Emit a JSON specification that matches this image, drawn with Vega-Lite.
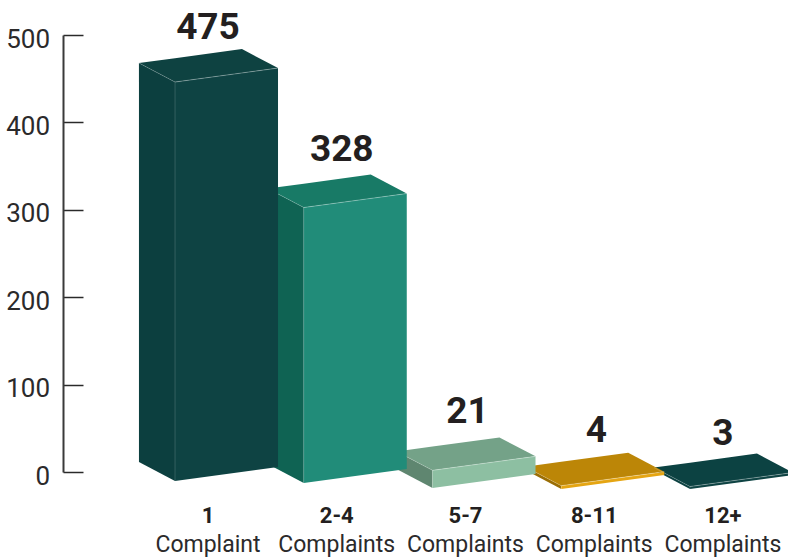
{
"$schema":"https://vega.github.io/schema/vega-lite/v6.json",
"width":725,"height":437,
"autosize":{"type":"none"},
"padding":{"left":63,"top":35,"right":0,"bottom":85},
"background":"white",
"config":{"view":{"stroke":null},"font":"Roboto",
"axisY":{"tickCount":6,"grid":false,"domainColor":"#3a3a3a","domainWidth":2,"tickColor":"#2a2a2a","tickWidth":1.5,"tickSize":-20,"labelPadding":33.5,"labelOffset":4,"labelFontSize":26,"labelFont":"Roboto","labelColor":"#2b2a2b","labelFontWeight":"normal"}},
"resolve":{"scale":{"color":"independent"}},
"data":{"values":[
{"group":"12+","unit":"Complaints","count":3},
{"group":"8-11","unit":"Complaints","count":4},
{"group":"5-7","unit":"Complaints","count":21},
{"group":"2-4","unit":"Complaints","count":328},
{"group":"1","unit":"Complaint","count":475}
]},
"transform":[
{"window":[{"op":"row_number","as":"r"}]},
{"calculate":"5-datum.r","as":"i"},
{"calculate":"[-10.3,-12.6,-18.3,-19.5,-19.5][datum.i]","as":"base"},
{"calculate":"datum.base+datum.count*0.961","as":"H"}
],
"layer":[
{"mark":{"type":"area","orient":"vertical"},
"transform":[{"calculate":"[0,1]","as":"t"},{"flatten":["t"]},
{"calculate":"datum.i-0.28+0.28*datum.t","as":"px"},
{"calculate":"datum.H+21.7*(1-datum.t)","as":"yU"},
{"calculate":"datum.base+21.7*(1-datum.t)","as":"yL"}],
"encoding":{
"x":{"field":"px","type":"quantitative","axis":null,"scale":{"domain":[-0.87,4.761],"nice":false,"zero":false}},
"y":{"field":"yU","type":"quantitative","stack":null,"title":null,"scale":{"domain":[0,500],"nice":false,"zero":false}},
"y2":{"field":"yL"},
"color":{"field":"group","type":"nominal","legend":null,"scale":{"domain":["1","2-4","5-7","8-11","12+"],"range":["#0c3f3f","#0f6353","#5f8670","#9a6e05","#0c4242"]}}}},
{"mark":{"type":"area","orient":"vertical"},
"transform":[{"calculate":"[0,1,2,3]","as":"t"},{"flatten":["t"]},
{"calculate":"datum.i-0.28+[0,0.28,0.8,1.08][datum.t]","as":"px"},
{"calculate":"datum.H+[21.7,27.3,37.7,16][datum.t]","as":"yU"},
{"calculate":"datum.H+[21.7,0,10.4,16][datum.t]","as":"yL"}],
"encoding":{
"x":{"field":"px","type":"quantitative","axis":null,"scale":{"domain":[-0.87,4.761],"nice":false,"zero":false}},
"y":{"field":"yU","type":"quantitative","stack":null,"title":null,"scale":{"domain":[0,500],"nice":false,"zero":false}},
"y2":{"field":"yL"},
"color":{"field":"group","type":"nominal","legend":null,"scale":{"domain":["1","2-4","5-7","8-11","12+"],"range":["#0e4241","#187a66","#74a288","#bc8607","#0c4242"]}}}},
{"mark":{"type":"rule","color":"#ffffff","opacity":0.18,"strokeWidth":1},
"transform":[{"calculate":"datum.i-0.28","as":"x2v"},{"calculate":"datum.H+21.7","as":"y2v"}],
"encoding":{
"x":{"field":"i","type":"quantitative","axis":null,"scale":{"domain":[-0.87,4.761],"nice":false,"zero":false}},
"y":{"field":"H","type":"quantitative","title":null,"scale":{"domain":[0,500],"nice":false,"zero":false}},
"x2":{"field":"x2v"},"y2":{"field":"y2v"}}},
{"mark":{"type":"area","orient":"vertical"},
"transform":[{"calculate":"[0,1]","as":"t"},{"flatten":["t"]},
{"calculate":"datum.i+0.8*datum.t","as":"px"},
{"calculate":"datum.H+16*datum.t","as":"yU"},
{"calculate":"datum.base+16*datum.t","as":"yL"}],
"encoding":{
"x":{"field":"px","type":"quantitative","axis":null,"scale":{"domain":[-0.87,4.761],"nice":false,"zero":false}},
"y":{"field":"yU","type":"quantitative","stack":null,"title":null,"scale":{"domain":[0,500],"nice":false,"zero":false}},
"y2":{"field":"yL"},
"color":{"field":"group","type":"nominal","legend":null,"scale":{"domain":["1","2-4","5-7","8-11","12+"],"range":["#0e4343","#218c79","#8dbfa2","#e5a512","#0e4343"]}}}},
{"mark":{"type":"rule","color":"#ffffff","opacity":0.3,"strokeWidth":1},
"transform":[{"calculate":"datum.i+0.8","as":"x2v"},{"calculate":"datum.H+16","as":"y2v"}],
"encoding":{
"x":{"field":"i","type":"quantitative","axis":null,"scale":{"domain":[-0.87,4.761],"nice":false,"zero":false}},
"y":{"field":"H","type":"quantitative","title":null,"scale":{"domain":[0,500],"nice":false,"zero":false}},
"x2":{"field":"x2v"},"y2":{"field":"y2v"}}},
{"mark":{"type":"rule","color":"#ffffff","opacity":0.15,"strokeWidth":1},
"encoding":{
"x":{"field":"i","type":"quantitative","axis":null,"scale":{"domain":[-0.87,4.761],"nice":false,"zero":false}},
"y":{"field":"H","type":"quantitative","title":null,"scale":{"domain":[0,500],"nice":false,"zero":false}},
"y2":{"field":"base"}}},
{"mark":{"type":"text","font":"Roboto","fontWeight":"bold","fontSize":37,"color":"#231f20","baseline":"alphabetic","align":"center"},
"transform":[{"calculate":"datum.i+[0.256,0.295,0.272,0.272,0.256][datum.i]","as":"tx"},{"calculate":"datum.H+[49,53,54,50,47][datum.i]","as":"ty"}],
"encoding":{
"x":{"field":"tx","type":"quantitative","axis":null,"scale":{"domain":[-0.87,4.761],"nice":false,"zero":false}},
"y":{"field":"ty","type":"quantitative","title":null,"scale":{"domain":[0,500],"nice":false,"zero":false}},
"text":{"field":"count","type":"quantitative"}}},
{"mark":{"type":"text","font":"Roboto","fontWeight":"bold","fontSize":22,"color":"#231f20","baseline":"alphabetic","align":"center"},
"transform":[{"calculate":"datum.i+0.256","as":"tx"}],
"encoding":{
"x":{"field":"tx","type":"quantitative","axis":null,"scale":{"domain":[-0.87,4.761],"nice":false,"zero":false}},
"y":{"datum":-58.3,"type":"quantitative","title":null,"scale":{"domain":[0,500],"nice":false,"zero":false}},
"text":{"field":"group","type":"nominal"}}},
{"mark":{"type":"text","font":"Roboto","fontSize":23,"color":"#2b2a2b","baseline":"alphabetic","align":"center"},
"transform":[{"calculate":"datum.i+0.256","as":"tx"}],
"encoding":{
"x":{"field":"tx","type":"quantitative","axis":null,"scale":{"domain":[-0.87,4.761],"nice":false,"zero":false}},
"y":{"datum":-91.5,"type":"quantitative","title":null,"scale":{"domain":[0,500],"nice":false,"zero":false}},
"text":{"field":"unit","type":"nominal"}}}
]
}
